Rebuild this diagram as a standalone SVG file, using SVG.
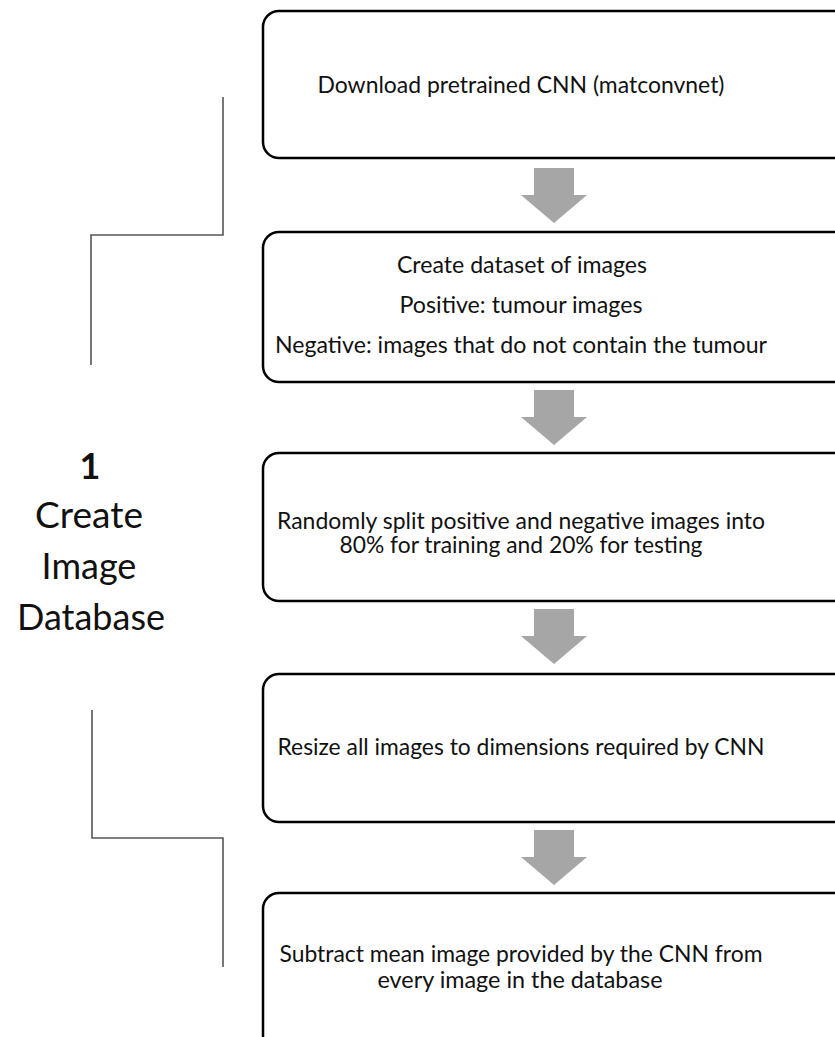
<svg xmlns="http://www.w3.org/2000/svg" width="835" height="1037" viewBox="0 0 835 1037">
  <defs>
    <style>
      .box { fill: #ffffff; stroke: #000000; stroke-width: 2.5; }
      .step { font-family: Lato, "Liberation Sans", sans-serif; font-size: 24px; fill: #111111; text-anchor: middle; }
      .label { font-family: Lato, "Liberation Sans", sans-serif; font-size: 36px; fill: #111111; text-anchor: middle; }
      .bracket { fill: none; stroke: #555555; stroke-width: 1.6; }
      .arrow { fill: #a6a6a6; }
    </style>
    <!-- block arrow pointing down, tip at (0,55) -->
    <polygon id="downArrow" points="-20,0 20,0 20,27 33,27 0,55 -33,27 -20,27"/>
  </defs>

  <rect width="835" height="1037" fill="#ffffff"/>

  <!-- phase label -->
  <g id="phase-label">
    <text class="label" x="90" y="479" font-weight="bold">1</text>
    <text class="label" x="89" y="528" textLength="108" lengthAdjust="spacingAndGlyphs">Create</text>
    <text class="label" x="89" y="579">Image</text>
    <text class="label" x="91" y="630">Database</text>
  </g>

  <!-- brackets and flow arrows -->
  <g id="connectors">
    <path class="bracket" d="M223,97 V235 H91 V365"/>
    <path class="bracket" d="M92,710 V838 H223 V967"/>
    <use href="#downArrow" class="arrow" x="554" y="168"/>
    <use href="#downArrow" class="arrow" x="554" y="390"/>
    <use href="#downArrow" class="arrow" x="554" y="609"/>
    <use href="#downArrow" class="arrow" x="554" y="830"/>
  </g>

  <g id="step-download">
    <rect class="box" x="263" y="11" width="600" height="147" rx="16"/>
    <text class="step" x="521" y="93" textLength="407" lengthAdjust="spacingAndGlyphs">Download pretrained CNN (matconvnet)</text>
  </g>

  <g id="step-dataset">
    <rect class="box" x="263" y="232" width="600" height="150" rx="16"/>
    <text class="step" x="522" y="273" textLength="250" lengthAdjust="spacingAndGlyphs">Create dataset of images</text>
    <text class="step" x="521" y="313" textLength="243" lengthAdjust="spacingAndGlyphs">Positive: tumour images</text>
    <text class="step" x="521" y="353" textLength="492" lengthAdjust="spacingAndGlyphs">Negative: images that do not contain the tumour</text>
  </g>

  <g id="step-split">
    <rect class="box" x="263" y="453" width="600" height="148" rx="16"/>
    <text class="step" x="521" y="529" textLength="488" lengthAdjust="spacingAndGlyphs">Randomly split positive and negative images into</text>
    <text class="step" x="521" y="553" textLength="363" lengthAdjust="spacingAndGlyphs">80% for training and 20% for testing</text>
  </g>

  <g id="step-resize">
    <rect class="box" x="263" y="674" width="600" height="148" rx="16"/>
    <text class="step" x="521" y="755" textLength="487" lengthAdjust="spacingAndGlyphs">Resize all images to dimensions required by CNN</text>
  </g>

  <g id="step-mean">
    <rect class="box" x="263" y="893" width="600" height="160" rx="16"/>
    <text class="step" x="521" y="962" textLength="483" lengthAdjust="spacingAndGlyphs">Subtract mean image provided by the CNN from</text>
    <text class="step" x="520" y="988" textLength="285" lengthAdjust="spacingAndGlyphs">every image in the database</text>
  </g>
</svg>
